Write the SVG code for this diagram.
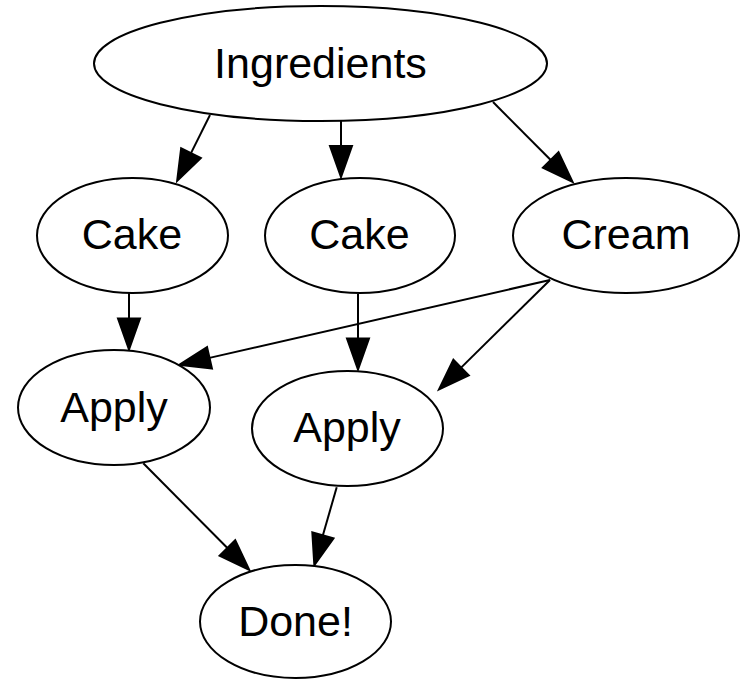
<svg xmlns="http://www.w3.org/2000/svg" width="740" height="680" viewBox="0 0 740 680">
<style>
.node ellipse{fill:#fff;stroke:#000;stroke-width:2}
.node text{font-family:"Liberation Sans",Arial,sans-serif;font-size:43px;text-anchor:middle;fill:#000}
.edges path{fill:none;stroke:#000;stroke-width:2;marker-end:url(#arr)}
</style>
<defs>
<marker id="arr" markerUnits="userSpaceOnUse" markerWidth="40" markerHeight="30" viewBox="0 -15 40 30" refX="0" refY="0" orient="auto" overflow="visible">
<path d="M0,-11 L31,0 L0,11 Z" fill="#000" stroke="#000" stroke-width="2" stroke-linejoin="miter"/>
</marker>
</defs>
<rect width="740" height="680" fill="#fff"/>
<g class="edges" id="edges">
<path d="M210,115 L191,153.1"/>
<path d="M341,121 L341,146"/>
<path d="M493,102 L550.7,160"/>
<path d="M129,293 L129,318.5"/>
<path d="M358,294 L358,338.5"/>
<path d="M550,280 L209.5,357.9"/>
<path d="M550,280 L461.1,367.6"/>
<path d="M143.3,463.3 L227.4,548"/>
<path d="M336.7,487.3 L322.9,535.3"/>
</g>
<g class="node" id="ingredients"><ellipse cx="320.5" cy="63.5" rx="226.5" ry="57.5"/><text x="320.5" y="77.5">Ingredients</text></g>
<g class="node" id="cake1"><ellipse cx="132.5" cy="235.5" rx="95.5" ry="57.5"/><text x="132" y="249">Cake</text></g>
<g class="node" id="cake2"><ellipse cx="360" cy="235.5" rx="95" ry="57.5"/><text x="359.5" y="249">Cake</text></g>
<g class="node" id="cream"><ellipse cx="626" cy="235.5" rx="113" ry="57.5"/><text x="626" y="249">Cream</text></g>
<g class="node" id="apply1"><ellipse cx="114" cy="407.5" rx="96" ry="57.5"/><text x="114" y="421.5">Apply</text></g>
<g class="node" id="apply2"><ellipse cx="347.5" cy="428.5" rx="95.5" ry="57.5"/><text x="347" y="442">Apply</text></g>
<g class="node" id="done"><ellipse cx="295.5" cy="621.5" rx="95.5" ry="56.5"/><text x="295.5" y="636">Done!</text></g>
</svg>
